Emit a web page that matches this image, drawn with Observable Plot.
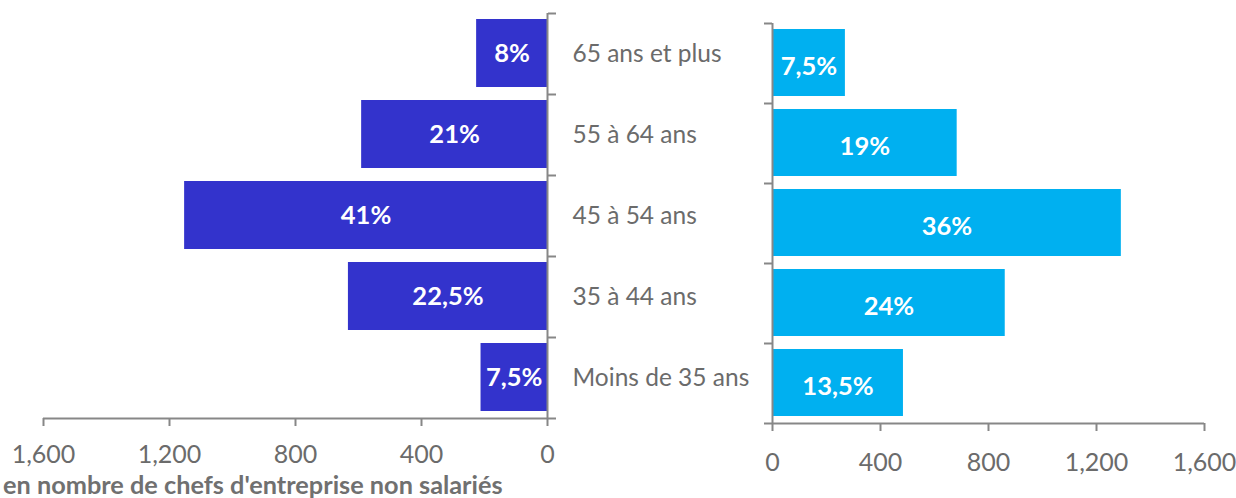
<!DOCTYPE html>
<html><head><meta charset="utf-8">
<script src="https://cdn.jsdelivr.net/npm/d3@7"></script>
<script src="https://cdn.jsdelivr.net/npm/@observablehq/plot@0.6"></script>
<style>
body{margin:0;background:#fff;}
#wrap{position:relative;width:1236px;height:498px;overflow:hidden;font-family:Lato,sans-serif;}
#left{position:absolute;left:0;top:0;}
#right{position:absolute;left:750px;top:0;}
#caption{position:absolute;left:3px;top:472px;font-weight:bold;color:#707070;font-size:25.3px;line-height:1;white-space:nowrap;}
</style></head>
<body><div id="wrap"><div id="left"></div><div id="right"></div><div id="caption">en nombre de chefs d'entreprise non salariés</div></div>
<script>
const categories = ["65 ans et plus", "55 à 64 ans", "45 à 54 ans", "35 à 44 ans", "Moins de 35 ans"];
const leftValues = [225, 590, 1152, 632, 211];
const leftLabels = ["8%", "21%", "41%", "22,5%", "7,5%"];
const rightValues = [270, 684, 1292, 862, 485];
const rightLabels = ["7,5%", "19%", "36%", "24%", "13,5%"];
const xTicks = [0, 400, 800, 1200, 1600];

const fmt = d3.format(",");
const axisStroke = "#878787";
const textFill = "#6b6b6b";
const font = "Lato, sans-serif";

const leftData = categories.map((c, i) => ({c, i, v: leftValues[i], label: leftLabels[i]}));
const rightData = categories.map((c, i) => ({c, i, v: rightValues[i], label: rightLabels[i]}));
const bounds = d3.range(categories.length + 1);
const centers = d3.range(categories.length).map(i => i + 0.5);

const left = Plot.plot({
  width: 750, height: 475,
  marginLeft: 43, marginRight: 203, marginTop: 13, marginBottom: 57,
  x: {domain: [0, 1600], reverse: true},
  y: {domain: [0, categories.length], reverse: true},
  style: {background: "transparent", overflow: "visible", fontFamily: font},
  marks: [
    Plot.rectX(leftData, {x1: 0, x2: "v", y1: "i", y2: d => d.i + 1, insetTop: 6, insetBottom: 7, fill: "#3333CC"}),
    Plot.ruleX([0], {y1: 0, y2: categories.length, stroke: axisStroke, strokeWidth: 2}),
    Plot.ruleY([categories.length], {x1: 0, x2: 1600, stroke: axisStroke, strokeWidth: 2}),
    Plot.axisX({ticks: xTicks, tickSize: 8, tickPadding: 19, tickFormat: fmt, fontSize: 25, stroke: axisStroke, strokeWidth: 2, fill: textFill, label: null}),
    Plot.axisY({anchor: "right", ticks: bounds, tickSize: 8, tickFormat: () => "", stroke: axisStroke, strokeWidth: 2, label: null}),
    Plot.axisY({anchor: "right", ticks: centers, tickSize: 0, tickPadding: 25, tickFormat: d => categories[Math.floor(d)], fontSize: 24.5, fill: textFill, textAnchor: "start", label: null}),
    Plot.text(leftData, {x: d => d.v / 2, y: d => d.i + 0.5, text: "label", fill: "white", fontWeight: "bold", fontSize: 25.5})
  ]
});
document.getElementById("left").appendChild(left);

const right = Plot.plot({
  width: 486, height: 480,
  marginLeft: 22, marginRight: 32, marginTop: 23, marginBottom: 57,
  x: {domain: [0, 1600]},
  y: {domain: [0, categories.length], reverse: true},
  style: {background: "transparent", overflow: "visible", fontFamily: font},
  marks: [
    Plot.rectX(rightData, {x1: 0, x2: "v", y1: "i", y2: d => d.i + 1, insetTop: 6, insetBottom: 7, fill: "#00B0F0"}),
    Plot.ruleX([0], {y1: 0, y2: categories.length, stroke: axisStroke, strokeWidth: 2}),
    Plot.ruleY([categories.length], {x1: 0, x2: 1600, stroke: axisStroke, strokeWidth: 2}),
    Plot.axisX({ticks: xTicks, tickSize: 8, tickPadding: 22, tickFormat: fmt, fontSize: 25, stroke: axisStroke, strokeWidth: 2, fill: textFill, label: null}),
    Plot.axisY({anchor: "left", ticks: bounds, tickSize: 8, tickFormat: () => "", stroke: axisStroke, strokeWidth: 2, label: null}),
    Plot.text(rightData, {x: d => d.v / 2, y: d => d.i + 0.5, dy: 3, text: "label", fill: "white", fontWeight: "bold", fontSize: 25.5})
  ]
});
document.getElementById("right").appendChild(right);
</script>
</body></html>
